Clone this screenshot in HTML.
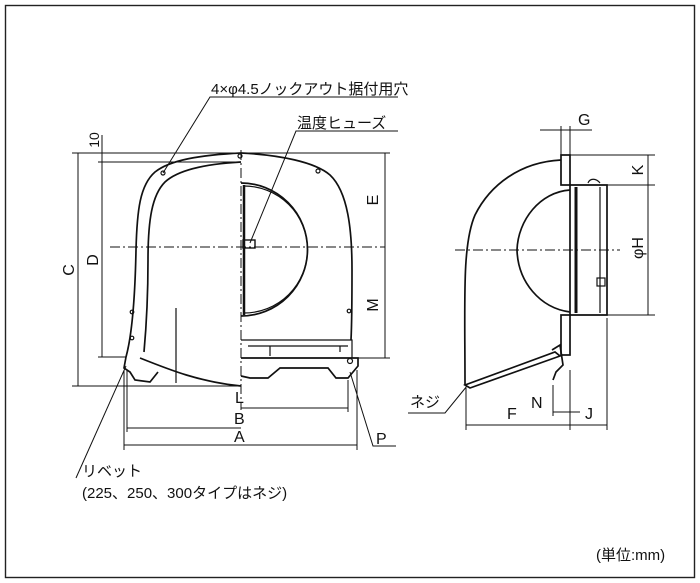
<!DOCTYPE html>
<html><head><meta charset="utf-8"><style>
html,body{margin:0;padding:0;background:#fff;}
svg{display:block;}
text{font-family:"Liberation Sans","Noto Sans CJK JP",sans-serif;fill:#111;}
</style></head><body>
<svg width="700" height="583" viewBox="0 0 700 583" xmlns="http://www.w3.org/2000/svg">
<rect x="5.5" y="5.5" width="689" height="572" fill="#fff" stroke="#222" stroke-width="1.4"/>
<g fill="none" stroke="#111" stroke-width="1.7">
<path d="M241 153 C200 155 170 160 155 172 C140 185 137 210 136 250 C135 300 132 335 126 357"/>
<path d="M241 162 C205 164 178 170 165 182 C152 195 148 220 148 260 C148 300 146 330 144 352"/>
<path d="M140 358 C170 370 200 382 241 386"/>
<path d="M126 357 L124 368 L130 372 L135 380 L150 382 L158 372"/>
<line x1="176" y1="308" x2="176" y2="383" stroke-width="1.2"/>
<path d="M241 153 C280 155 315 162 330 175 C348 192 352 230 352 270 C352 300 352 320 351 340"/>
<path d="M241 183 A66 66 0 0 1 241 316"/>
<path d="M244 186 A62 62 0 0 1 244 313" stroke-width="1.2"/>
<line x1="244" y1="185" x2="244" y2="315" stroke-width="2.5"/>
<rect x="243" y="240" width="12" height="8" stroke-width="1.4"/>
<path d="M241 340 L352 340 L352 358 M248 346 L348 346 M270 346 L270 356 M340 346 L340 352" stroke-width="1.2"/>
<path d="M241 358 L358 358 L358 366 L348 378 L336 378 L328 368 L280 368 L268 378 L250 378 L241 376"/>
<circle cx="350" cy="361" r="2.5" stroke-width="1.2"/>
<circle cx="163" cy="173" r="2" stroke-width="1.2"/>
<circle cx="240" cy="156" r="2" stroke-width="1.2"/>
<circle cx="318" cy="171" r="2" stroke-width="1.2"/>
<circle cx="132" cy="312" r="1.8" stroke-width="1.2"/>
<circle cx="132" cy="338" r="1.8" stroke-width="1.2"/>
<circle cx="349" cy="311" r="1.8" stroke-width="1.2"/>
</g>
<g fill="none" stroke="#111" stroke-width="1">
<line x1="241" y1="150" x2="241" y2="410" stroke-dasharray="10,3,2,3"/>
<line x1="110" y1="247" x2="385" y2="247" stroke-dasharray="10,3,2,3"/>
<line x1="72" y1="153" x2="390" y2="153"/>
<line x1="98" y1="162" x2="240" y2="162"/>
<line x1="72" y1="386" x2="241" y2="386"/>
<line x1="98" y1="357" x2="126" y2="357"/>
<line x1="78" y1="153" x2="78" y2="386"/>
<line x1="102" y1="162" x2="102" y2="357"/>
<line x1="102" y1="135" x2="102" y2="162"/>
<line x1="385" y1="153" x2="385" y2="358"/>
<line x1="355" y1="358" x2="390" y2="358"/>
<line x1="241" y1="408" x2="348" y2="408"/>
<line x1="127" y1="428" x2="241" y2="428"/>
<line x1="124" y1="445" x2="357" y2="445"/>
<line x1="124" y1="370" x2="124" y2="450"/>
<line x1="127" y1="370" x2="127" y2="432"/>
<line x1="357" y1="370" x2="357" y2="450"/>
<line x1="348" y1="380" x2="348" y2="412"/>
<polyline points="350,372 373,446 396,446"/>
<polyline points="126,366 76,478"/>
<polyline points="163,173 210,97 398,97"/>
<polyline points="250,243 296,131 398,131"/>
<line x1="540" y1="130" x2="592" y2="130"/>
<line x1="561" y1="126" x2="561" y2="155"/>
<line x1="570" y1="126" x2="570" y2="155"/>
<line x1="570" y1="155" x2="655" y2="155"/>
<line x1="605" y1="185" x2="655" y2="185"/>
<line x1="605" y1="315" x2="655" y2="315"/>
<line x1="648" y1="155" x2="648" y2="315"/>
<line x1="455" y1="250" x2="620" y2="250" stroke-dasharray="10,3,2,3"/>
<line x1="466" y1="388" x2="466" y2="430"/>
<line x1="570" y1="370" x2="570" y2="430"/>
<line x1="607" y1="318" x2="607" y2="430"/>
<line x1="553" y1="385" x2="553" y2="416"/>
<line x1="466" y1="425" x2="607" y2="425"/>
<line x1="553" y1="412" x2="580" y2="412"/>
<polyline points="408,413 445,413 467,386"/>
</g>
<g fill="none" stroke="#111" stroke-width="1.7">
<path d="M561 160 C520 162 490 185 475 215 C462 245 465 300 465 385"/>
<rect x="561" y="155" width="9" height="30"/>
<rect x="561" y="315" width="9" height="40"/>
<path d="M570 185 L607 185 L607 315 L570 315 Z"/>
<line x1="576" y1="187" x2="576" y2="313" stroke-width="3"/>
<line x1="600" y1="187" x2="600" y2="313" stroke-width="1.2"/>
<path d="M570 190 C540 192 518 220 517 250 C518 282 540 308 570 312"/>
<rect x="597" y="278" width="8" height="8" stroke-width="1.2"/>
<path d="M465 385 L555 352 L560 356 L470 388 Z"/>
<path d="M552 350 L560 345 L563 365 L556 372 L553 380"/>
<path d="M588 183 C590 178 596 178 600 183" stroke-width="1.2"/>
</g>
<g font-size="15">
<text x="211" y="94">4×φ4.5ノックアウト据付用穴</text>
<text x="297" y="128">温度ヒューズ</text>
<text x="235" y="403" font-size="16">L</text>
<text x="234" y="424" font-size="16">B</text>
<text x="234" y="442" font-size="16">A</text>
<text x="376" y="444" font-size="16">P</text>
<text x="82" y="476">リベット</text>
<text x="82" y="498">(225、250、300タイプはネジ)</text>
<text x="578" y="125" font-size="16">G</text>
<text x="507" y="419" font-size="16">F</text>
<text x="531" y="408" font-size="16">N</text>
<text x="585" y="419" font-size="16">J</text>
<text x="410" y="407">ネジ</text>
<text x="596" y="560">(単位:mm)</text>
<text transform="translate(74,270) rotate(-90)" font-size="16" text-anchor="middle">C</text>
<text transform="translate(98,260) rotate(-90)" font-size="16" text-anchor="middle">D</text>
<text transform="translate(99,140) rotate(-90)" font-size="14" text-anchor="middle">10</text>
<text transform="translate(378,200) rotate(-90)" font-size="16" text-anchor="middle">E</text>
<text transform="translate(378,305) rotate(-90)" font-size="16" text-anchor="middle">M</text>
<text transform="translate(643,170) rotate(-90)" font-size="16" text-anchor="middle">K</text>
<text transform="translate(643,248) rotate(-90)" font-size="16" text-anchor="middle">φH</text>
</g>
</svg>
</body></html>
